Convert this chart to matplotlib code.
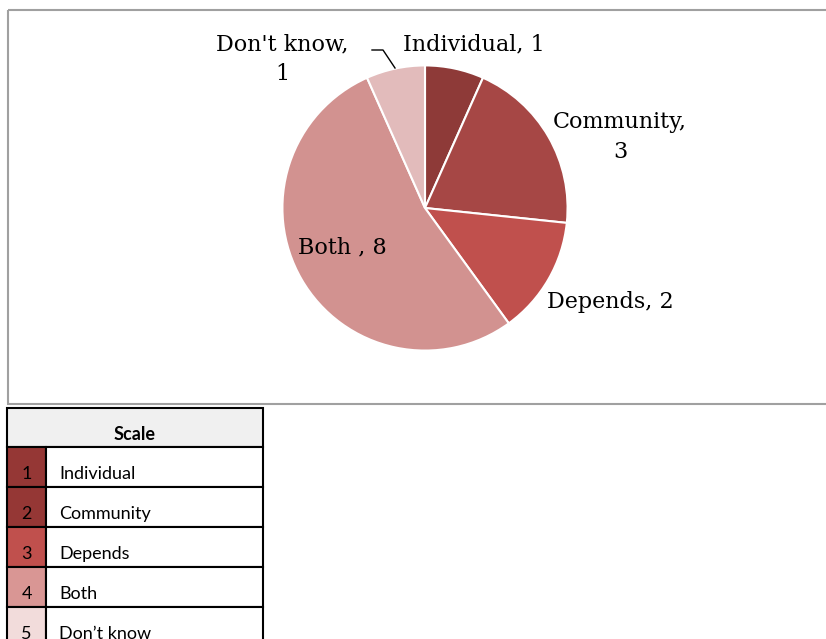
import matplotlib.pyplot as plt
from matplotlib.patches import Rectangle

# data
categories = ["Individual", "Community", "Depends", "Both ", "Don't know"]
counts = [1, 3, 2, 8, 1]
slice_colors = ["#8E3A38", "#A64745", "#C0504D", "#D29290", "#E2BBBB"]

scale_nums = ["1", "2", "3", "4", "5"]
scale_labels = ["Individual", "Community", "Depends", "Both", "Don\u2019t know"]
scale_colors = ["#953735", "#953735", "#C0504D", "#D99694", "#F2DCDB"]

W, H = 826, 639
fig = plt.figure(figsize=(W / 100, H / 100), dpi=100)

# pie
cx, cy, r = 425, 208, 144
pie_ax = fig.add_axes([(cx - r) / W, 1 - (cy + r) / H, 2 * r / W, 2 * r / H])
pie_ax.pie(counts, colors=slice_colors, startangle=90, counterclock=False, radius=1,
           wedgeprops=dict(edgecolor="white", linewidth=1.5))
pie_ax.set_xlim(-1.01, 1.01)
pie_ax.set_ylim(-1.01, 1.01)

# overlay axes in pixel coordinates (frame, labels, table)
bg = fig.add_axes([0, 0, 1, 1])
bg.set_xlim(0, W)
bg.set_ylim(H, 0)
bg.patch.set_alpha(0)
bg.axis("off")

# chart frame
bg.add_patch(Rectangle((8, 10), 830, 394, fill=False, edgecolor="#A0A0A0", lw=1.5))

serif = "DejaVu Serif"
lab_size = 16
label_pos = [(474, 44), (620, 137), (610, 302), (342, 247), (282, 59)]
label_text = ["%s, %d" % (categories[0], counts[0]),
              "%s,\n%d" % (categories[1], counts[1]),
              "%s, %d" % (categories[2], counts[2]),
              "%s, %d" % (categories[3], counts[3]),
              "%s,\n%d" % (categories[4], counts[4])]
for (x, y), t in zip(label_pos, label_text):
    bg.text(x, y, t, ha="center", va="center", fontsize=lab_size, family=serif,
            linespacing=1.45, color="black")

# leader line for Don't know
bg.plot([372, 383, 395], [50, 50, 68], color="black", lw=1)

# scale table
tx, ty, tw = 7, 408, 256
head_h, row_h, swatch_w = 39, 40, 39
tsize = 13
bg.add_patch(Rectangle((tx, ty), tw, head_h, facecolor="#F0F0F0", edgecolor="black", lw=1.5))
bg.text(tx + tw / 2, ty + 27, "Scale", ha="center", va="center", fontsize=tsize,
        fontweight="bold", family="Lato")
for i in range(len(scale_nums)):
    y0 = ty + head_h + i * row_h
    bg.add_patch(Rectangle((tx, y0), swatch_w, row_h, facecolor=scale_colors[i],
                           edgecolor="black", lw=1.5))
    bg.add_patch(Rectangle((tx + swatch_w, y0), tw - swatch_w, row_h, facecolor="white",
                           edgecolor="black", lw=1.5))
    bg.text(tx + swatch_w / 2, y0 + 27, scale_nums[i], ha="center", va="center",
            fontsize=tsize, family="Lato")
    bg.text(59, y0 + 27, scale_labels[i], ha="left", va="center", fontsize=tsize, family="Lato")

fig.savefig("out.png", dpi=100)
